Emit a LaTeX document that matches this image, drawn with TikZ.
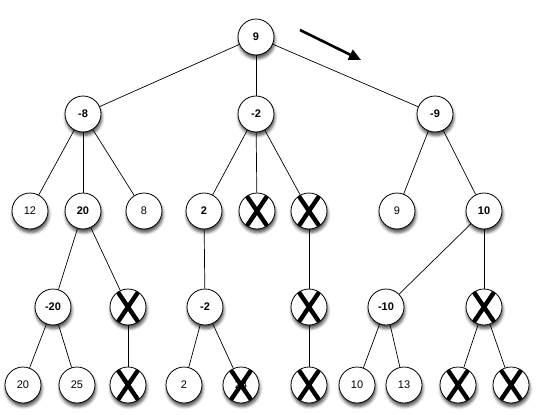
\documentclass[tikz,border=0pt]{standalone}
\usepackage{fontspec}
\setmainfont{Liberation Sans}
\usetikzlibrary{shadows.blur,arrows.meta}
\tikzset{
  nd/.style={circle, draw, line width=0.8pt, fill=white, minimum size=36pt, inner sep=0pt,
     blur shadow={shadow xshift=0.8pt, shadow yshift=-3.5pt, shadow blur radius=3pt, shadow opacity=70},
     font=\fontsize{11}{12}\selectfont},
  bnd/.style={nd, font=\fontsize{11}{12}\selectfont\bfseries},
  xmark/.style={path picture={
     \draw[line width=4.4pt] ([xshift=-11.5pt,yshift=17pt]path picture bounding box.center) -- ([xshift=11.5pt,yshift=-17pt]path picture bounding box.center);
     \draw[line width=4.4pt] ([xshift=11.5pt,yshift=17pt]path picture bounding box.center) -- ([xshift=-11.5pt,yshift=-17pt]path picture bounding box.center);}},
  cut/.style={nd, xmark},
  edge/.style={line width=0.7pt}
}
\begin{document}
\begin{tikzpicture}[x=1pt,y=-1pt]
\useasboundingbox (0,0) rectangle (536,415);
% level 0
\node[bnd] (r) at (256,37) {9};
% level 1
\node[bnd] (a) at (83,114) {-8};
\node[bnd] (b) at (256,114) {-2};
\node[bnd] (c) at (435,114) {-9};
% level 2
\node[nd]  (a1) at (30,211) {12};
\node[bnd] (a2) at (83,211) {20};
\node[nd]  (a3) at (144,211) {8};
\node[bnd] (b1) at (204,211) {2};
\node[cut] (b2) at (257,211) {};
\node[cut] (b3) at (309,211) {};
\node[nd]  (c1) at (397,211) {9};
\node[bnd] (c2) at (484,211) {10};
% level 3
\node[bnd] (a21) at (53,307) {-20};
\node[cut] (a22) at (128,307) {};
\node[bnd] (b11) at (205,307) {-2};
\node[cut] (b31) at (309,307) {};
\node[bnd] (c21) at (386,307) {-10};
\node[cut] (c22) at (484,307) {};
% level 4
\node[nd]  (a211) at (23,385) {20};
\node[nd]  (a212) at (77,385) {25};
\node[cut] (a221) at (128,385) {};
\node[nd]  (b111) at (184,385) {2};
\node[nd, xmark] (b112) at (241,385) {24};
\node[cut] (b311) at (309,385) {};
\node[nd]  (c211) at (357,385) {10};
\node[nd]  (c212) at (404,385) {13};
\node[cut] (c221) at (458,385) {};
\node[cut] (c222) at (511,385) {};
% edges
\draw[edge] (r) -- (a);
\draw[edge] (r) -- (b);
\draw[edge] (r) -- (c);
\draw[edge] (a) -- (a1);
\draw[edge] (a) -- (a2);
\draw[edge] (a) -- (a3);
\draw[edge] (b) -- (b1);
\draw[edge] (b) -- (b2);
\draw[edge] (b) -- (b3);
\draw[edge] (c) -- (c1);
\draw[edge] (c) -- (c2);
\draw[edge] (a2) -- (a21);
\draw[edge] (a2) -- (a22);
\draw[edge] (b1) -- (b11);
\draw[edge] (b3) -- (b31);
\draw[edge] (c2) -- (c21);
\draw[edge] (c2) -- (c22);
\draw[edge] (a21) -- (a211);
\draw[edge] (a21) -- (a212);
\draw[edge] (a22) -- (a221);
\draw[edge] (b11) -- (b111);
\draw[edge] (b11) -- (b112);
\draw[edge] (b31) -- (b311);
\draw[edge] (c21) -- (c211);
\draw[edge] (c21) -- (c212);
\draw[edge] (c22) -- (c221);
\draw[edge] (c22) -- (c222);
% arrow
\coordinate (p1) at (300,30);
\coordinate (p2) at (361,60);
\draw[line width=2.6pt, -{Triangle[length=12pt,width=11pt]}] (p1) -- (p2);
\end{tikzpicture}
\end{document}
